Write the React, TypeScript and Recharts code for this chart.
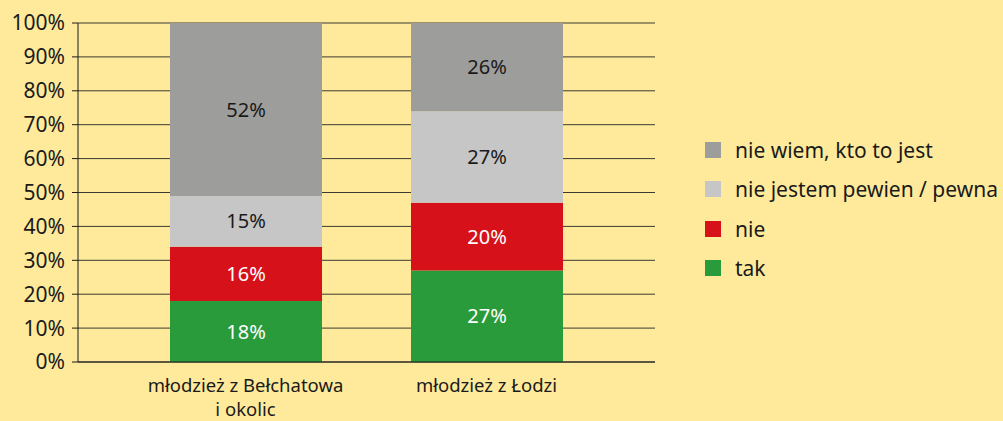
import React from 'react'
import { BarChart, Bar, XAxis, YAxis, CartesianGrid, LabelList } from 'recharts'

const categories = ['młodzież z Bełchatowa\ni okolic', 'młodzież z Łodzi']
const tak = [18, 27]
const nie = [16, 20]
const niePewien = [15, 27]
const nieWiem = [52, 26]
const yTicks = [0, 10, 20, 30, 40, 50, 60, 70, 80, 90, 100]

const series = [
  { key: 'tak', name: 'tak', color: '#2a9b3b', label: '#ffffff' },
  { key: 'nie', name: 'nie', color: '#d7111a', label: '#ffffff' },
  { key: 'niePewien', name: 'nie jestem pewien / pewna', color: '#c6c6c6', label: '#1a1a1a' },
  { key: 'nieWiem', name: 'nie wiem, kto to jest', color: '#9d9d9c', label: '#1a1a1a' },
]

const data = categories.map((c, i) => ({
  name: c,
  tak: tak[i],
  nie: nie[i],
  niePewien: niePewien[i],
  nieWiem: nieWiem[i],
}))

const FONT = '"Noto Sans", sans-serif'

function XTick(props: any) {
  const { x, y, payload } = props
  const lines = String(payload.value).split('\n')
  return (
    <g>
      {lines.map((l, i) => (
        <text key={i} x={x} y={y + 22 + i * 24} textAnchor="middle" fontSize={18.5} fill="#1a1a1a" fontFamily={FONT}>
          {l}
        </text>
      ))}
    </g>
  )
}

// legend drawn as plain html next to the chart, top item first
function LegendBox() {
  const items = [...series].reverse()
  return (
    <div style={{ position: 'absolute', left: 705, top: 130, fontFamily: FONT, fontSize: 21, color: '#1a1a1a' }}>
      {items.map((s) => (
        <div key={s.key} style={{ display: 'flex', alignItems: 'center', height: 39.5, whiteSpace: 'nowrap' }}>
          <span style={{ width: 16, height: 16, background: s.color, display: 'inline-block', marginRight: 14 }}></span>
          <span>{s.name}</span>
        </div>
      ))}
    </div>
  )
}

export default function App() {
  React.useEffect(() => {
    document.body.style.margin = '0'
  }, [])
  return (
    <div style={{ position: 'relative', width: 1003, height: 421, background: '#ffea9b', fontFamily: FONT }}>
      <BarChart width={1003} height={421} data={data} margin={{ top: 23, right: 348, bottom: 0, left: 0 }}>
        <CartesianGrid vertical={false} stroke="#3a3a30" strokeWidth={1} />
        <XAxis
          dataKey="name"
          tick={<XTick />}
          tickLine={false}
          axisLine={{ stroke: '#1a1a1a' }}
          height={59}
          padding={{ left: 47, right: 48 }}
          interval={0}
        />
        <YAxis
          domain={[0, 100]}
          ticks={yTicks}
          allowDataOverflow
          width={78}
          tickFormatter={(v) => `${v}%`}
          tick={{ fontSize: 21, fill: '#1a1a1a', fontFamily: FONT, dx: -5 }}
          tickLine={{ stroke: '#1a1a1a' }}
          tickSize={6}
          axisLine={{ stroke: '#1a1a1a' }}
        />
        {series.map((s) => (
          <Bar key={s.key} dataKey={s.key} name={s.name} stackId="a" fill={s.color} barSize={152} isAnimationActive={false}>
            <LabelList
              dataKey={s.key}
              position="center"
              formatter={(v: any) => `${v}%`}
              fill={s.label}
              fontSize={20}
              fontFamily={FONT}
            />
          </Bar>
        ))}
      </BarChart>
      <LegendBox />
    </div>
  )
}
